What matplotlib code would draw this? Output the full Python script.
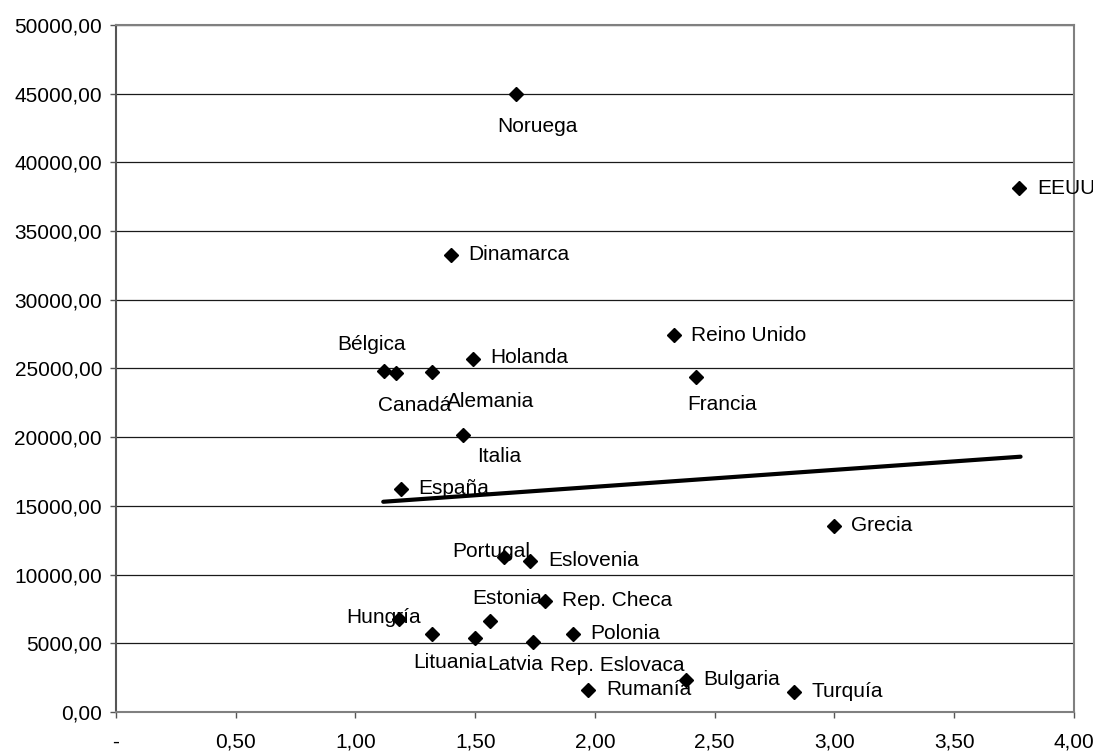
import matplotlib
matplotlib.use("Agg")
import matplotlib.pyplot as plt
from matplotlib.ticker import FuncFormatter

plt.rcParams['font.family'] = ['Liberation Sans', 'DejaVu Sans']

# ---- data ----
countries = ["Noruega", "EEUU", "Dinamarca", "Reino Unido", "Holanda", "Bélgica",
             "Canadá", "Alemania", "Francia", "Italia", "España", "Grecia",
             "Portugal", "Eslovenia", "Rep. Checa", "Hungría", "Estonia",
             "Lituania", "Latvia", "Rep. Eslovaca", "Polonia", "Rumanía",
             "Bulgaria", "Turquía"]
x_vals = [1.67, 3.77, 1.40, 2.33, 1.49, 1.12,
          1.17, 1.32, 2.42, 1.45, 1.19, 3.00,
          1.62, 1.73, 1.79, 1.18, 1.56,
          1.32, 1.50, 1.74, 1.91, 1.97,
          2.38, 2.83]
y_vals = [44950, 38120, 33260, 27420, 25690, 24840,
          24650, 24770, 24400, 20160, 16230, 13560,
          11300, 11010, 8100, 6750, 6620,
          5700, 5410, 5070, 5700, 1600,
          2330, 1480]
trend_x = [1.116, 3.777]
trend_y = [15300, 18580]
x_ticks = [0, 0.5, 1.0, 1.5, 2.0, 2.5, 3.0, 3.5, 4.0]
y_ticks = [0, 5000, 10000, 15000, 20000, 25000, 30000, 35000, 40000, 45000, 50000]

# label offsets in pixels (dx, dy; dy positive = up) and horizontal alignment
label_pos = {
    "Noruega": (21, -32, 'center'), "EEUU": (18, 0, 'left'),
    "Dinamarca": (17, 0, 'left'), "Reino Unido": (17, 0, 'left'),
    "Holanda": (17, 1, 'left'), "Bélgica": (-13, 26, 'center'),
    "Canadá": (18, -32, 'center'), "Alemania": (58, -30, 'center'),
    "Francia": (26, -28, 'center'), "Italia": (36, -22, 'center'),
    "España": (17, 0, 'left'), "Grecia": (17, 0, 'left'),
    "Portugal": (-13, 5, 'center'), "Eslovenia": (18, 0, 'left'),
    "Rep. Checa": (17, 0, 'left'), "Hungría": (-15, 2, 'center'),
    "Estonia": (18, 23, 'center'), "Lituania": (18, -29, 'center'),
    "Latvia": (40, -27, 'center'), "Rep. Eslovaca": (85, -23, 'center'),
    "Polonia": (17, 0, 'left'), "Rumanía": (18, 1, 'left'),
    "Bulgaria": (17, 0, 'left'), "Turquía": (18, 0, 'left'),
}

FS = 15

fig = plt.figure(figsize=(10.93, 7.52), dpi=100)
ax = fig.add_axes([0.1061, 0.0532, 0.8765, 0.9136])

ax.set_xlim(x_ticks[0], x_ticks[-1])
ax.set_ylim(y_ticks[0], y_ticks[-1])
ax.set_xticks(x_ticks)
ax.set_yticks(y_ticks)
ax.xaxis.set_major_formatter(FuncFormatter(
    lambda v, p: "-" if v == 0 else f"{v:.2f}".replace(".", ",")))
ax.yaxis.set_major_formatter(FuncFormatter(
    lambda v, p: f"{v:.2f}".replace(".", ",")))

ax.grid(axis='y', color='#1a1a1a', linewidth=0.9, zorder=0)
ax.set_axisbelow(True)
for side in ['left', 'bottom', 'right', 'top']:
    ax.spines[side].set_color('#808080')
    ax.spines[side].set_linewidth(1.5)
ax.spines['left'].set_color('#555555')

ax.tick_params(axis='x', direction='out', length=4, width=1, color='#555555',
               pad=11, labelsize=FS, labelcolor='black')
ax.tick_params(axis='y', direction='out', length=4, width=1, color='#555555',
               pad=6, labelsize=FS, labelcolor='black')

ax.plot(trend_x, trend_y, color='black', linewidth=3, solid_capstyle='round', zorder=3)
ax.plot(x_vals, y_vals, linestyle='none', marker='D', markersize=7,
        color='black', zorder=4)

for name, xv, yv in zip(countries, x_vals, y_vals):
    dx, dy, ha = label_pos[name]
    ax.annotate(name, (xv, yv), xytext=(dx, dy), textcoords='offset pixels',
                ha=ha, va='center', fontsize=FS, color='black',
                annotation_clip=False, zorder=5)

fig.savefig("out.png", dpi=100)
